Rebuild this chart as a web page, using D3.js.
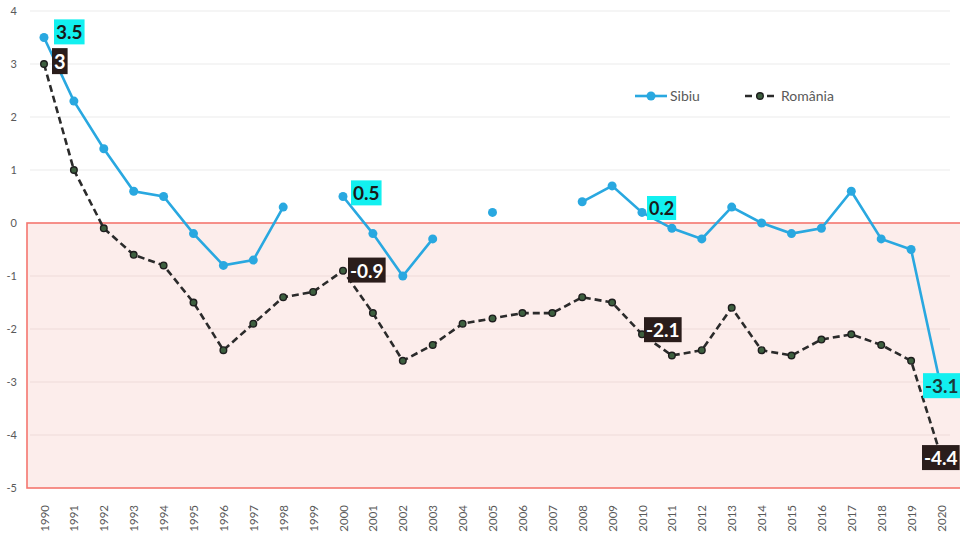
<!DOCTYPE html>
<html>
<head>
<meta charset="utf-8">
<script src="https://cdn.jsdelivr.net/npm/d3@7"></script>
<style>
  body { margin: 0; background: #fff; }
  svg { display: block; font-family: Lato, "Open Sans", sans-serif; }
</style>
</head>
<body>
<svg id="chart" width="960" height="537"></svg>
<script>
// data
const years = d3.range(1990, 2021);
const sibiu = [3.5, 2.3, 1.4, 0.6, 0.5, -0.2, -0.8, -0.7, 0.3, null,
               0.5, -0.2, -1.0, -0.3, null, 0.2, null, null, 0.4, 0.7,
               0.2, -0.1, -0.3, 0.3, 0.0, -0.2, -0.1, 0.6, -0.3, -0.5, -3.1];
const romania = [3, 1.0, -0.1, -0.6, -0.8, -1.5, -2.4, -1.9, -1.4, -1.3,
                 -0.9, -1.7, -2.6, -2.3, -1.9, -1.8, -1.7, -1.7, -1.4, -1.5,
                 -2.1, -2.5, -2.4, -1.6, -2.4, -2.5, -2.2, -2.1, -2.3, -2.6, -4.4];
const yTicks = [4, 3, 2, 1, 0, -1, -2, -3, -4, -5];

const blue = "#29a8e0";
const svg = d3.select("#chart");

const x = d3.scaleLinear().domain([1990, 2020]).range([44, 941]);
const y = d3.scaleLinear().domain([-5, 4]).range([488, 11]);

// negative zone
svg.append("rect")
  .attr("x", 27).attr("y", y(0))
  .attr("width", 960).attr("height", y(-5) - y(0))
  .attr("fill", "#fcedeb")
  .attr("stroke", "#f4766f").attr("stroke-width", 1.6);

// grid
svg.append("g").selectAll("line")
  .data(yTicks.filter(d => d != 0 && d != -5))
  .enter().append("line")
  .attr("x1", 30).attr("x2", 950)
  .attr("y1", d => y(d)).attr("y2", d => y(d))
  .attr("stroke", d => d > 0 ? "#ececec" : "#eddcd9")
  .attr("stroke-width", 1.2);

// y axis
const yAxis = svg.append("g")
  .attr("transform", "translate(17,0)")
  .call(d3.axisLeft(y).tickValues(yTicks).tickSize(0).tickPadding(0).tickFormat(d => String(d)));
yAxis.select(".domain").remove();
yAxis.selectAll("text").attr("fill", "#595959").attr("font-size", 11).attr("font-family", "Lato, sans-serif");

// x axis
const xAxis = svg.append("g")
  .attr("transform", "translate(0,503)")
  .call(d3.axisBottom(x).tickValues(years).tickSize(0).tickFormat(d => String(d)));
xAxis.select(".domain").remove();
xAxis.selectAll("text")
  .attr("fill", "#595959").attr("font-size", 11.5).attr("font-family", "Lato, sans-serif")
  .attr("transform", "rotate(-90)")
  .attr("text-anchor", "end")
  .attr("x", -2).attr("y", 0).attr("dy", "0.35em");

const sibiuData = years.map((yr, i) => ({year: yr, value: sibiu[i]}));
const romData = years.map((yr, i) => ({year: yr, value: romania[i]}));

const line = d3.line()
  .defined(d => d.value != null)
  .x(d => x(d.year))
  .y(d => y(d.value));

// Romania
svg.append("path")
  .datum(romData)
  .attr("d", line)
  .attr("fill", "none")
  .attr("stroke", "#2b2b2b")
  .attr("stroke-width", 2.6)
  .attr("stroke-dasharray", "7,4");

svg.append("g").selectAll("circle")
  .data(romData)
  .enter().append("circle")
  .attr("cx", d => x(d.year)).attr("cy", d => y(d.value))
  .attr("r", 3.3)
  .attr("fill", "#3d5f3f").attr("stroke", "#1e1e1e").attr("stroke-width", 1.4);

// Sibiu
svg.append("path")
  .datum(sibiuData)
  .attr("d", line)
  .attr("fill", "none")
  .attr("stroke", blue)
  .attr("stroke-width", 2.6);

svg.append("g").selectAll("circle")
  .data(sibiuData.filter(d => d.value != null))
  .enter().append("circle")
  .attr("cx", d => x(d.year)).attr("cy", d => y(d.value))
  .attr("r", 4.5)
  .attr("fill", blue);

// data labels
function label(yr, val, bg, fg, dx, dy, fs) {
  const g = svg.append("g");
  const t = g.append("text")
    .attr("x", x(yr) + dx).attr("y", y(val) + dy)
    .attr("font-size", fs).attr("font-weight", "bold")
    .attr("font-family", "Lato, sans-serif")
    .attr("fill", fg)
    .attr("dominant-baseline", "middle")
    .text(String(val));
  const b = t.node().getBBox();
  g.insert("rect", "text")
    .attr("x", b.x - 2).attr("y", b.y - 1)
    .attr("width", b.width + 4).attr("height", b.height + 2)
    .attr("fill", bg);
}

const cyan = "#12f0f0";
const dark = "#2a1d1b";
label(1990, sibiu[0], cyan, "#1a1a1a", 12, -3, 19);
label(2000, sibiu[10], cyan, "#1a1a1a", 10, -1, 19);
label(2010, sibiu[20], cyan, "#1a1a1a", 7, -2, 18);
label(2020, sibiu[30], cyan, "#1a3a3a", -16, 1, 19);

label(1990, romania[0], dark, "#fff", 10, 0, 20);
label(2000, romania[10], dark, "#fff", 7, 2, 19);
label(2010, romania[20], dark, "#fff", 4, -2, 19);
label(2020, romania[30], dark, "#fff", -17, 4, 19);

// legend
const lg = svg.append("g").attr("font-family", "Lato, sans-serif");
lg.append("line").attr("x1", 635).attr("x2", 667).attr("y1", 96).attr("y2", 96)
  .attr("stroke", blue).attr("stroke-width", 2.6);
lg.append("circle").attr("cx", 651).attr("cy", 96).attr("r", 4.5).attr("fill", blue);
lg.append("text").attr("x", 670).attr("y", 96).attr("dy", "0.35em")
  .attr("font-size", 14).attr("fill", "#595959").text("Sibiu");

lg.append("line").attr("x1", 745).attr("x2", 776).attr("y1", 96).attr("y2", 96)
  .attr("stroke", "#2b2b2b").attr("stroke-width", 2.6).attr("stroke-dasharray", "7,4");
lg.append("circle").attr("cx", 760).attr("cy", 96).attr("r", 3.3)
  .attr("fill", "#3d5f3f").attr("stroke", "#1e1e1e").attr("stroke-width", 1.4);
lg.append("text").attr("x", 781).attr("y", 96).attr("dy", "0.35em")
  .attr("font-size", 14).attr("fill", "#595959").text("România");
</script>
</body>
</html>
